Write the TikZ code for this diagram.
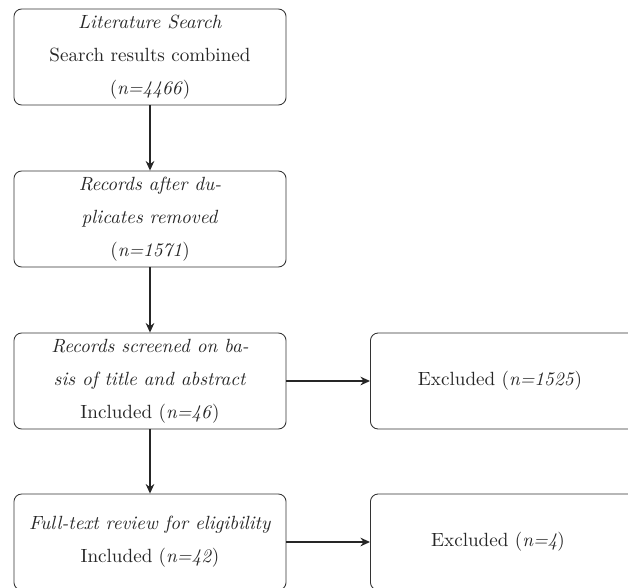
\documentclass[tikz,border=0pt]{standalone}
\usetikzlibrary{arrows.meta}
\begin{document}
\begin{tikzpicture}[x=0.523pt,y=-0.523pt,
  box/.style={draw=black!80, line width=0.45pt, rounded corners=4pt,
    minimum width=142.3pt, minimum height=50.2pt, align=center,
    inner sep=0pt, font=\fontsize{10}{17.3}\selectfont, text=black!85},
  rbox/.style={box, minimum width=146pt},
  lbl/.style={text=black!85, inner sep=0pt},
  conn/.style={draw=black!85, line width=0.8pt, -{Stealth[length=5pt,width=4.5pt]}}]
\useasboundingbox (0,0) rectangle (628,587);
\clip (0,0) rectangle (628,587);
\node[box] (b1) at (150,57) {\textit{Literature Search}\\Search results combined\\(\textit{n=4466})};
\node[box] (b2) at (150,219) {\textit{Records after du-}\\\textit{plicates removed}\\(\textit{n=1571})};
\node[box] (b3) at (150,381) {\textit{Records screened on ba-}\\\textit{sis of title and abstract}\\Included (\textit{n=46})};
\node[box] (b4) at (150,542) {\textit{Full-text review for eligibility}\\Included (\textit{n=42})};
\node[rbox, anchor=west] (e3) at (370,381) {};
\node[lbl] (e3t) at (500,381) {Excluded (\textit{n=1525})};
\node[rbox, anchor=west] (e4) at (370,542) {};
\node[lbl] (e4t) at (498,542) {Excluded (\textit{n=4})};
\draw[conn] (b1) -- (b2);
\draw[conn] (b2) -- (b3);
\draw[conn] (b3) -- (b4);
\draw[conn] (b3) -- (e3);
\draw[conn] (b4) -- (e4);
\end{tikzpicture}
\end{document}
